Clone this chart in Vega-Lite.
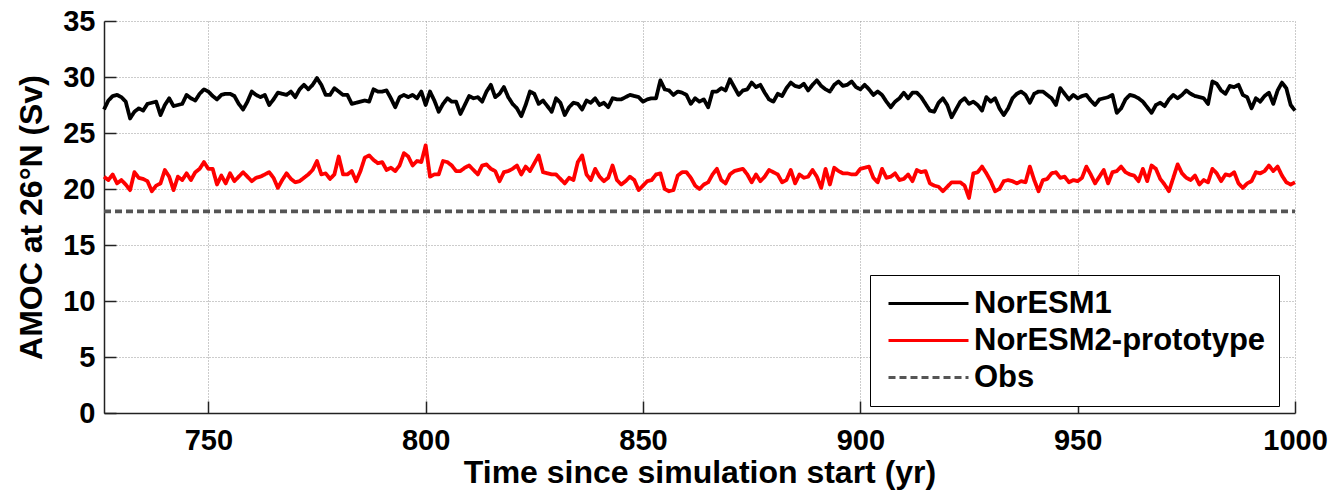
{
  "$schema": "https://vega.github.io/schema/vega-lite/v6.json",
  "width": 1191,
  "height": 392,
  "autosize": {"type": "none"},
  "padding": {"left": 104, "top": 21, "right": 38, "bottom": 82},
  "background": "white",
  "config": {"font": "Liberation Sans", "view": {"stroke": null}},
  "data": {"values": [
{"year":726,"NorESM1":27.1,"NorESM2-prototype":21.1,"Obs":18},
{"year":727,"NorESM1":27.9,"NorESM2-prototype":20.8,"Obs":18},
{"year":728,"NorESM1":28.3,"NorESM2-prototype":21.3,"Obs":18},
{"year":729,"NorESM1":28.4,"NorESM2-prototype":20.5,"Obs":18},
{"year":730,"NorESM1":28.2,"NorESM2-prototype":20.8,"Obs":18},
{"year":731,"NorESM1":27.8,"NorESM2-prototype":20.4,"Obs":18},
{"year":732,"NorESM1":26.3,"NorESM2-prototype":19.9,"Obs":18},
{"year":733,"NorESM1":26.9,"NorESM2-prototype":21.5,"Obs":18},
{"year":734,"NorESM1":27.2,"NorESM2-prototype":21.0,"Obs":18},
{"year":735,"NorESM1":27.0,"NorESM2-prototype":20.9,"Obs":18},
{"year":736,"NorESM1":27.6,"NorESM2-prototype":20.7,"Obs":18},
{"year":737,"NorESM1":27.7,"NorESM2-prototype":19.8,"Obs":18},
{"year":738,"NorESM1":27.8,"NorESM2-prototype":20.3,"Obs":18},
{"year":739,"NorESM1":26.6,"NorESM2-prototype":20.5,"Obs":18},
{"year":740,"NorESM1":27.5,"NorESM2-prototype":21.7,"Obs":18},
{"year":741,"NorESM1":28.1,"NorESM2-prototype":21.1,"Obs":18},
{"year":742,"NorESM1":27.4,"NorESM2-prototype":19.9,"Obs":18},
{"year":743,"NorESM1":27.5,"NorESM2-prototype":21.1,"Obs":18},
{"year":744,"NorESM1":27.6,"NorESM2-prototype":20.8,"Obs":18},
{"year":745,"NorESM1":28.4,"NorESM2-prototype":21.4,"Obs":18},
{"year":746,"NorESM1":28.1,"NorESM2-prototype":20.8,"Obs":18},
{"year":747,"NorESM1":27.9,"NorESM2-prototype":21.5,"Obs":18},
{"year":748,"NorESM1":28.5,"NorESM2-prototype":21.8,"Obs":18},
{"year":749,"NorESM1":28.9,"NorESM2-prototype":22.4,"Obs":18},
{"year":750,"NorESM1":28.7,"NorESM2-prototype":21.8,"Obs":18},
{"year":751,"NorESM1":28.3,"NorESM2-prototype":21.8,"Obs":18},
{"year":752,"NorESM1":28.0,"NorESM2-prototype":20.4,"Obs":18},
{"year":753,"NorESM1":28.4,"NorESM2-prototype":21.2,"Obs":18},
{"year":754,"NorESM1":28.5,"NorESM2-prototype":20.5,"Obs":18},
{"year":755,"NorESM1":28.5,"NorESM2-prototype":21.4,"Obs":18},
{"year":756,"NorESM1":28.3,"NorESM2-prototype":20.7,"Obs":18},
{"year":757,"NorESM1":27.6,"NorESM2-prototype":21.1,"Obs":18},
{"year":758,"NorESM1":27.1,"NorESM2-prototype":21.5,"Obs":18},
{"year":759,"NorESM1":27.8,"NorESM2-prototype":21.1,"Obs":18},
{"year":760,"NorESM1":28.7,"NorESM2-prototype":20.7,"Obs":18},
{"year":761,"NorESM1":28.4,"NorESM2-prototype":21.0,"Obs":18},
{"year":762,"NorESM1":28.2,"NorESM2-prototype":21.1,"Obs":18},
{"year":763,"NorESM1":28.4,"NorESM2-prototype":21.3,"Obs":18},
{"year":764,"NorESM1":27.5,"NorESM2-prototype":21.5,"Obs":18},
{"year":765,"NorESM1":28.0,"NorESM2-prototype":21.0,"Obs":18},
{"year":766,"NorESM1":28.6,"NorESM2-prototype":20.1,"Obs":18},
{"year":767,"NorESM1":28.5,"NorESM2-prototype":20.8,"Obs":18},
{"year":768,"NorESM1":28.4,"NorESM2-prototype":21.4,"Obs":18},
{"year":769,"NorESM1":28.7,"NorESM2-prototype":20.9,"Obs":18},
{"year":770,"NorESM1":28.2,"NorESM2-prototype":20.6,"Obs":18},
{"year":771,"NorESM1":28.9,"NorESM2-prototype":20.7,"Obs":18},
{"year":772,"NorESM1":29.3,"NorESM2-prototype":21.0,"Obs":18},
{"year":773,"NorESM1":28.9,"NorESM2-prototype":21.3,"Obs":18},
{"year":774,"NorESM1":29.3,"NorESM2-prototype":21.7,"Obs":18},
{"year":775,"NorESM1":29.9,"NorESM2-prototype":22.5,"Obs":18},
{"year":776,"NorESM1":29.3,"NorESM2-prototype":21.3,"Obs":18},
{"year":777,"NorESM1":28.4,"NorESM2-prototype":21.4,"Obs":18},
{"year":778,"NorESM1":28.4,"NorESM2-prototype":20.9,"Obs":18},
{"year":779,"NorESM1":29.0,"NorESM2-prototype":21.3,"Obs":18},
{"year":780,"NorESM1":28.7,"NorESM2-prototype":22.9,"Obs":18},
{"year":781,"NorESM1":28.4,"NorESM2-prototype":21.3,"Obs":18},
{"year":782,"NorESM1":28.4,"NorESM2-prototype":21.3,"Obs":18},
{"year":783,"NorESM1":27.6,"NorESM2-prototype":21.6,"Obs":18},
{"year":784,"NorESM1":27.7,"NorESM2-prototype":20.7,"Obs":18},
{"year":785,"NorESM1":27.8,"NorESM2-prototype":21.6,"Obs":18},
{"year":786,"NorESM1":27.9,"NorESM2-prototype":22.8,"Obs":18},
{"year":787,"NorESM1":27.8,"NorESM2-prototype":23.0,"Obs":18},
{"year":788,"NorESM1":28.9,"NorESM2-prototype":22.6,"Obs":18},
{"year":789,"NorESM1":28.7,"NorESM2-prototype":22.3,"Obs":18},
{"year":790,"NorESM1":28.7,"NorESM2-prototype":22.4,"Obs":18},
{"year":791,"NorESM1":28.8,"NorESM2-prototype":21.7,"Obs":18},
{"year":792,"NorESM1":28.1,"NorESM2-prototype":21.9,"Obs":18},
{"year":793,"NorESM1":27.3,"NorESM2-prototype":21.6,"Obs":18},
{"year":794,"NorESM1":28.2,"NorESM2-prototype":22.1,"Obs":18},
{"year":795,"NorESM1":28.4,"NorESM2-prototype":23.2,"Obs":18},
{"year":796,"NorESM1":28.2,"NorESM2-prototype":22.9,"Obs":18},
{"year":797,"NorESM1":28.4,"NorESM2-prototype":22.1,"Obs":18},
{"year":798,"NorESM1":28.1,"NorESM2-prototype":22.5,"Obs":18},
{"year":799,"NorESM1":28.7,"NorESM2-prototype":22.4,"Obs":18},
{"year":800,"NorESM1":27.5,"NorESM2-prototype":23.9,"Obs":18},
{"year":801,"NorESM1":28.7,"NorESM2-prototype":21.1,"Obs":18},
{"year":802,"NorESM1":27.9,"NorESM2-prototype":21.3,"Obs":18},
{"year":803,"NorESM1":26.9,"NorESM2-prototype":21.3,"Obs":18},
{"year":804,"NorESM1":27.6,"NorESM2-prototype":22.5,"Obs":18},
{"year":805,"NorESM1":28.1,"NorESM2-prototype":22.4,"Obs":18},
{"year":806,"NorESM1":27.8,"NorESM2-prototype":22.1,"Obs":18},
{"year":807,"NorESM1":27.8,"NorESM2-prototype":21.6,"Obs":18},
{"year":808,"NorESM1":26.7,"NorESM2-prototype":21.6,"Obs":18},
{"year":809,"NorESM1":27.5,"NorESM2-prototype":21.9,"Obs":18},
{"year":810,"NorESM1":28.3,"NorESM2-prototype":22.1,"Obs":18},
{"year":811,"NorESM1":28.1,"NorESM2-prototype":21.7,"Obs":18},
{"year":812,"NorESM1":28.2,"NorESM2-prototype":21.3,"Obs":18},
{"year":813,"NorESM1":27.8,"NorESM2-prototype":22.1,"Obs":18},
{"year":814,"NorESM1":28.7,"NorESM2-prototype":22.2,"Obs":18},
{"year":815,"NorESM1":29.3,"NorESM2-prototype":21.8,"Obs":18},
{"year":816,"NorESM1":28.2,"NorESM2-prototype":21.6,"Obs":18},
{"year":817,"NorESM1":28.5,"NorESM2-prototype":20.7,"Obs":18},
{"year":818,"NorESM1":29.1,"NorESM2-prototype":21.5,"Obs":18},
{"year":819,"NorESM1":28.2,"NorESM2-prototype":21.6,"Obs":18},
{"year":820,"NorESM1":27.6,"NorESM2-prototype":21.8,"Obs":18},
{"year":821,"NorESM1":27.2,"NorESM2-prototype":22.1,"Obs":18},
{"year":822,"NorESM1":26.5,"NorESM2-prototype":21.3,"Obs":18},
{"year":823,"NorESM1":27.5,"NorESM2-prototype":22.0,"Obs":18},
{"year":824,"NorESM1":28.7,"NorESM2-prototype":21.6,"Obs":18},
{"year":825,"NorESM1":28.5,"NorESM2-prototype":22.3,"Obs":18},
{"year":826,"NorESM1":27.6,"NorESM2-prototype":23.0,"Obs":18},
{"year":827,"NorESM1":27.9,"NorESM2-prototype":21.5,"Obs":18},
{"year":828,"NorESM1":27.4,"NorESM2-prototype":21.4,"Obs":18},
{"year":829,"NorESM1":26.9,"NorESM2-prototype":21.3,"Obs":18},
{"year":830,"NorESM1":28.1,"NorESM2-prototype":21.3,"Obs":18},
{"year":831,"NorESM1":27.7,"NorESM2-prototype":20.9,"Obs":18},
{"year":832,"NorESM1":26.6,"NorESM2-prototype":20.5,"Obs":18},
{"year":833,"NorESM1":27.3,"NorESM2-prototype":21.0,"Obs":18},
{"year":834,"NorESM1":27.7,"NorESM2-prototype":20.8,"Obs":18},
{"year":835,"NorESM1":27.6,"NorESM2-prototype":22.4,"Obs":18},
{"year":836,"NorESM1":27.1,"NorESM2-prototype":23.0,"Obs":18},
{"year":837,"NorESM1":27.9,"NorESM2-prototype":21.3,"Obs":18},
{"year":838,"NorESM1":27.7,"NorESM2-prototype":20.8,"Obs":18},
{"year":839,"NorESM1":28.1,"NorESM2-prototype":21.8,"Obs":18},
{"year":840,"NorESM1":27.5,"NorESM2-prototype":21.1,"Obs":18},
{"year":841,"NorESM1":27.7,"NorESM2-prototype":20.7,"Obs":18},
{"year":842,"NorESM1":27.3,"NorESM2-prototype":21.0,"Obs":18},
{"year":843,"NorESM1":28.1,"NorESM2-prototype":22.1,"Obs":18},
{"year":844,"NorESM1":28.0,"NorESM2-prototype":20.8,"Obs":18},
{"year":845,"NorESM1":28.0,"NorESM2-prototype":20.4,"Obs":18},
{"year":846,"NorESM1":28.2,"NorESM2-prototype":20.7,"Obs":18},
{"year":847,"NorESM1":28.4,"NorESM2-prototype":21.1,"Obs":18},
{"year":848,"NorESM1":28.3,"NorESM2-prototype":20.8,"Obs":18},
{"year":849,"NorESM1":28.2,"NorESM2-prototype":19.9,"Obs":18},
{"year":850,"NorESM1":27.8,"NorESM2-prototype":20.3,"Obs":18},
{"year":851,"NorESM1":28.0,"NorESM2-prototype":20.7,"Obs":18},
{"year":852,"NorESM1":28.1,"NorESM2-prototype":20.8,"Obs":18},
{"year":853,"NorESM1":28.1,"NorESM2-prototype":21.3,"Obs":18},
{"year":854,"NorESM1":29.7,"NorESM2-prototype":21.4,"Obs":18},
{"year":855,"NorESM1":28.9,"NorESM2-prototype":20.0,"Obs":18},
{"year":856,"NorESM1":28.8,"NorESM2-prototype":19.8,"Obs":18},
{"year":857,"NorESM1":28.4,"NorESM2-prototype":19.9,"Obs":18},
{"year":858,"NorESM1":28.7,"NorESM2-prototype":21.2,"Obs":18},
{"year":859,"NorESM1":28.6,"NorESM2-prototype":21.5,"Obs":18},
{"year":860,"NorESM1":28.4,"NorESM2-prototype":21.5,"Obs":18},
{"year":861,"NorESM1":27.6,"NorESM2-prototype":21.0,"Obs":18},
{"year":862,"NorESM1":28.1,"NorESM2-prototype":20.3,"Obs":18},
{"year":863,"NorESM1":27.8,"NorESM2-prototype":20.0,"Obs":18},
{"year":864,"NorESM1":28.0,"NorESM2-prototype":20.4,"Obs":18},
{"year":865,"NorESM1":27.3,"NorESM2-prototype":20.6,"Obs":18},
{"year":866,"NorESM1":28.7,"NorESM2-prototype":21.3,"Obs":18},
{"year":867,"NorESM1":28.7,"NorESM2-prototype":21.8,"Obs":18},
{"year":868,"NorESM1":29.0,"NorESM2-prototype":20.8,"Obs":18},
{"year":869,"NorESM1":28.8,"NorESM2-prototype":20.5,"Obs":18},
{"year":870,"NorESM1":29.8,"NorESM2-prototype":21.3,"Obs":18},
{"year":871,"NorESM1":29.1,"NorESM2-prototype":21.6,"Obs":18},
{"year":872,"NorESM1":28.4,"NorESM2-prototype":21.7,"Obs":18},
{"year":873,"NorESM1":28.8,"NorESM2-prototype":21.8,"Obs":18},
{"year":874,"NorESM1":28.9,"NorESM2-prototype":21.3,"Obs":18},
{"year":875,"NorESM1":29.5,"NorESM2-prototype":20.6,"Obs":18},
{"year":876,"NorESM1":29.1,"NorESM2-prototype":21.3,"Obs":18},
{"year":877,"NorESM1":29.3,"NorESM2-prototype":20.7,"Obs":18},
{"year":878,"NorESM1":28.6,"NorESM2-prototype":21.1,"Obs":18},
{"year":879,"NorESM1":28.0,"NorESM2-prototype":21.7,"Obs":18},
{"year":880,"NorESM1":27.8,"NorESM2-prototype":21.5,"Obs":18},
{"year":881,"NorESM1":28.5,"NorESM2-prototype":21.3,"Obs":18},
{"year":882,"NorESM1":28.3,"NorESM2-prototype":20.6,"Obs":18},
{"year":883,"NorESM1":29.0,"NorESM2-prototype":20.8,"Obs":18},
{"year":884,"NorESM1":29.5,"NorESM2-prototype":21.7,"Obs":18},
{"year":885,"NorESM1":29.2,"NorESM2-prototype":20.5,"Obs":18},
{"year":886,"NorESM1":29.1,"NorESM2-prototype":21.3,"Obs":18},
{"year":887,"NorESM1":29.4,"NorESM2-prototype":21.0,"Obs":18},
{"year":888,"NorESM1":28.8,"NorESM2-prototype":21.1,"Obs":18},
{"year":889,"NorESM1":29.3,"NorESM2-prototype":21.7,"Obs":18},
{"year":890,"NorESM1":29.7,"NorESM2-prototype":21.1,"Obs":18},
{"year":891,"NorESM1":29.2,"NorESM2-prototype":20.1,"Obs":18},
{"year":892,"NorESM1":28.9,"NorESM2-prototype":21.8,"Obs":18},
{"year":893,"NorESM1":28.7,"NorESM2-prototype":20.4,"Obs":18},
{"year":894,"NorESM1":29.3,"NorESM2-prototype":21.9,"Obs":18},
{"year":895,"NorESM1":29.6,"NorESM2-prototype":21.6,"Obs":18},
{"year":896,"NorESM1":29.2,"NorESM2-prototype":21.4,"Obs":18},
{"year":897,"NorESM1":29.3,"NorESM2-prototype":21.4,"Obs":18},
{"year":898,"NorESM1":29.6,"NorESM2-prototype":21.3,"Obs":18},
{"year":899,"NorESM1":29.1,"NorESM2-prototype":21.3,"Obs":18},
{"year":900,"NorESM1":28.9,"NorESM2-prototype":21.8,"Obs":18},
{"year":901,"NorESM1":29.3,"NorESM2-prototype":21.9,"Obs":18},
{"year":902,"NorESM1":28.9,"NorESM2-prototype":22.0,"Obs":18},
{"year":903,"NorESM1":28.4,"NorESM2-prototype":21.0,"Obs":18},
{"year":904,"NorESM1":28.7,"NorESM2-prototype":20.6,"Obs":18},
{"year":905,"NorESM1":28.4,"NorESM2-prototype":21.8,"Obs":18},
{"year":906,"NorESM1":27.8,"NorESM2-prototype":21.0,"Obs":18},
{"year":907,"NorESM1":27.3,"NorESM2-prototype":21.1,"Obs":18},
{"year":908,"NorESM1":27.8,"NorESM2-prototype":21.4,"Obs":18},
{"year":909,"NorESM1":28.1,"NorESM2-prototype":20.8,"Obs":18},
{"year":910,"NorESM1":28.6,"NorESM2-prototype":20.9,"Obs":18},
{"year":911,"NorESM1":28.1,"NorESM2-prototype":21.3,"Obs":18},
{"year":912,"NorESM1":28.6,"NorESM2-prototype":20.7,"Obs":18},
{"year":913,"NorESM1":28.6,"NorESM2-prototype":21.7,"Obs":18},
{"year":914,"NorESM1":28.2,"NorESM2-prototype":21.5,"Obs":18},
{"year":915,"NorESM1":27.6,"NorESM2-prototype":21.6,"Obs":18},
{"year":916,"NorESM1":27.0,"NorESM2-prototype":20.5,"Obs":18},
{"year":917,"NorESM1":26.9,"NorESM2-prototype":20.3,"Obs":18},
{"year":918,"NorESM1":27.7,"NorESM2-prototype":20.2,"Obs":18},
{"year":919,"NorESM1":28.1,"NorESM2-prototype":19.8,"Obs":18},
{"year":920,"NorESM1":27.5,"NorESM2-prototype":20.2,"Obs":18},
{"year":921,"NorESM1":26.4,"NorESM2-prototype":20.6,"Obs":18},
{"year":922,"NorESM1":27.1,"NorESM2-prototype":20.6,"Obs":18},
{"year":923,"NorESM1":27.8,"NorESM2-prototype":20.6,"Obs":18},
{"year":924,"NorESM1":28.1,"NorESM2-prototype":20.3,"Obs":18},
{"year":925,"NorESM1":27.6,"NorESM2-prototype":19.2,"Obs":18},
{"year":926,"NorESM1":27.8,"NorESM2-prototype":21.4,"Obs":18},
{"year":927,"NorESM1":27.5,"NorESM2-prototype":21.5,"Obs":18},
{"year":928,"NorESM1":27.0,"NorESM2-prototype":22.0,"Obs":18},
{"year":929,"NorESM1":28.2,"NorESM2-prototype":21.4,"Obs":18},
{"year":930,"NorESM1":27.8,"NorESM2-prototype":20.7,"Obs":18},
{"year":931,"NorESM1":28.1,"NorESM2-prototype":19.8,"Obs":18},
{"year":932,"NorESM1":27.2,"NorESM2-prototype":20.0,"Obs":18},
{"year":933,"NorESM1":26.6,"NorESM2-prototype":20.7,"Obs":18},
{"year":934,"NorESM1":27.2,"NorESM2-prototype":20.8,"Obs":18},
{"year":935,"NorESM1":28.1,"NorESM2-prototype":20.7,"Obs":18},
{"year":936,"NorESM1":28.5,"NorESM2-prototype":20.5,"Obs":18},
{"year":937,"NorESM1":28.7,"NorESM2-prototype":20.7,"Obs":18},
{"year":938,"NorESM1":28.4,"NorESM2-prototype":20.6,"Obs":18},
{"year":939,"NorESM1":27.7,"NorESM2-prototype":22.0,"Obs":18},
{"year":940,"NorESM1":28.5,"NorESM2-prototype":20.8,"Obs":18},
{"year":941,"NorESM1":28.7,"NorESM2-prototype":19.8,"Obs":18},
{"year":942,"NorESM1":28.7,"NorESM2-prototype":20.8,"Obs":18},
{"year":943,"NorESM1":28.4,"NorESM2-prototype":20.9,"Obs":18},
{"year":944,"NorESM1":28.1,"NorESM2-prototype":21.4,"Obs":18},
{"year":945,"NorESM1":27.5,"NorESM2-prototype":21.5,"Obs":18},
{"year":946,"NorESM1":29.0,"NorESM2-prototype":21.0,"Obs":18},
{"year":947,"NorESM1":28.5,"NorESM2-prototype":21.1,"Obs":18},
{"year":948,"NorESM1":28.0,"NorESM2-prototype":20.6,"Obs":18},
{"year":949,"NorESM1":28.4,"NorESM2-prototype":20.8,"Obs":18},
{"year":950,"NorESM1":28.1,"NorESM2-prototype":20.7,"Obs":18},
{"year":951,"NorESM1":28.3,"NorESM2-prototype":21.0,"Obs":18},
{"year":952,"NorESM1":28.4,"NorESM2-prototype":22.0,"Obs":18},
{"year":953,"NorESM1":27.9,"NorESM2-prototype":21.3,"Obs":18},
{"year":954,"NorESM1":27.5,"NorESM2-prototype":20.5,"Obs":18},
{"year":955,"NorESM1":28.0,"NorESM2-prototype":21.1,"Obs":18},
{"year":956,"NorESM1":28.1,"NorESM2-prototype":21.7,"Obs":18},
{"year":957,"NorESM1":28.2,"NorESM2-prototype":20.5,"Obs":18},
{"year":958,"NorESM1":28.4,"NorESM2-prototype":21.5,"Obs":18},
{"year":959,"NorESM1":26.8,"NorESM2-prototype":21.6,"Obs":18},
{"year":960,"NorESM1":27.2,"NorESM2-prototype":22.0,"Obs":18},
{"year":961,"NorESM1":28.0,"NorESM2-prototype":21.5,"Obs":18},
{"year":962,"NorESM1":28.4,"NorESM2-prototype":21.3,"Obs":18},
{"year":963,"NorESM1":28.3,"NorESM2-prototype":21.2,"Obs":18},
{"year":964,"NorESM1":28.1,"NorESM2-prototype":20.7,"Obs":18},
{"year":965,"NorESM1":27.8,"NorESM2-prototype":21.8,"Obs":18},
{"year":966,"NorESM1":27.3,"NorESM2-prototype":20.7,"Obs":18},
{"year":967,"NorESM1":26.8,"NorESM2-prototype":22.1,"Obs":18},
{"year":968,"NorESM1":27.5,"NorESM2-prototype":21.8,"Obs":18},
{"year":969,"NorESM1":27.7,"NorESM2-prototype":20.9,"Obs":18},
{"year":970,"NorESM1":27.4,"NorESM2-prototype":20.4,"Obs":18},
{"year":971,"NorESM1":28.0,"NorESM2-prototype":19.8,"Obs":18},
{"year":972,"NorESM1":28.4,"NorESM2-prototype":21.0,"Obs":18},
{"year":973,"NorESM1":28.1,"NorESM2-prototype":22.2,"Obs":18},
{"year":974,"NorESM1":28.4,"NorESM2-prototype":21.4,"Obs":18},
{"year":975,"NorESM1":28.8,"NorESM2-prototype":21.0,"Obs":18},
{"year":976,"NorESM1":28.5,"NorESM2-prototype":20.8,"Obs":18},
{"year":977,"NorESM1":28.3,"NorESM2-prototype":21.2,"Obs":18},
{"year":978,"NorESM1":28.2,"NorESM2-prototype":20.4,"Obs":18},
{"year":979,"NorESM1":28.1,"NorESM2-prototype":20.8,"Obs":18},
{"year":980,"NorESM1":27.6,"NorESM2-prototype":20.6,"Obs":18},
{"year":981,"NorESM1":29.6,"NorESM2-prototype":21.8,"Obs":18},
{"year":982,"NorESM1":29.4,"NorESM2-prototype":21.4,"Obs":18},
{"year":983,"NorESM1":28.8,"NorESM2-prototype":20.7,"Obs":18},
{"year":984,"NorESM1":28.5,"NorESM2-prototype":21.3,"Obs":18},
{"year":985,"NorESM1":29.2,"NorESM2-prototype":21.2,"Obs":18},
{"year":986,"NorESM1":29.1,"NorESM2-prototype":21.5,"Obs":18},
{"year":987,"NorESM1":29.3,"NorESM2-prototype":20.5,"Obs":18},
{"year":988,"NorESM1":28.4,"NorESM2-prototype":20.1,"Obs":18},
{"year":989,"NorESM1":28.2,"NorESM2-prototype":20.5,"Obs":18},
{"year":990,"NorESM1":27.2,"NorESM2-prototype":20.7,"Obs":18},
{"year":991,"NorESM1":28.1,"NorESM2-prototype":21.5,"Obs":18},
{"year":992,"NorESM1":27.8,"NorESM2-prototype":21.4,"Obs":18},
{"year":993,"NorESM1":28.3,"NorESM2-prototype":21.6,"Obs":18},
{"year":994,"NorESM1":28.6,"NorESM2-prototype":22.1,"Obs":18},
{"year":995,"NorESM1":27.6,"NorESM2-prototype":21.6,"Obs":18},
{"year":996,"NorESM1":28.8,"NorESM2-prototype":22.0,"Obs":18},
{"year":997,"NorESM1":29.5,"NorESM2-prototype":21.2,"Obs":18},
{"year":998,"NorESM1":29.0,"NorESM2-prototype":20.6,"Obs":18},
{"year":999,"NorESM1":27.5,"NorESM2-prototype":20.4,"Obs":18},
{"year":1000,"NorESM1":27.0,"NorESM2-prototype":20.6,"Obs":18}
  ]},
  "transform": [{"fold": ["NorESM1", "NorESM2-prototype", "Obs"], "as": ["series", "amoc"]}],
  "mark": {"type": "line", "strokeWidth": 3.8, "strokeJoin": "round"},
  "encoding": {
    "x": {
      "field": "year", "type": "quantitative",
      "scale": {"domain": [726, 1000], "nice": false, "zero": false},
      "axis": {
        "values": [750, 800, 850, 900, 950, 1000], "format": "d",
        "title": "Time since simulation start (yr)",
        "grid": true, "gridDash": [1, 2], "gridColor": "#999999", "gridWidth": 1,
        "domainColor": "#222222", "domainWidth": 1.5,
        "tickColor": "#222222", "tickWidth": 1.5, "tickSize": -12,
        "labelFont": "Liberation Sans", "labelFontWeight": "bold", "labelFontSize": 29, "labelColor": "black",
        "labelPadding": 25, "labelFlush": false,
        "titleFont": "Liberation Sans", "titleFontWeight": "bold", "titleFontSize": 32, "titleColor": "black",
        "titlePadding": 2
      }
    },
    "y": {
      "field": "amoc", "type": "quantitative",
      "scale": {"domain": [0, 35], "nice": false},
      "axis": {
        "values": [0, 5, 10, 15, 20, 25, 30, 35],
        "title": "AMOC at 26°N (Sv)",
        "grid": true, "gridDash": [1, 2], "gridColor": "#999999", "gridWidth": 1,
        "domainColor": "#222222", "domainWidth": 1.5,
        "tickColor": "#222222", "tickWidth": 1.5, "tickSize": -12,
        "labelFont": "Liberation Sans", "labelFontWeight": "bold", "labelFontSize": 29, "labelColor": "black",
        "labelPadding": 21, "labelFlush": false,
        "titleFont": "Liberation Sans", "titleFontWeight": "bold", "titleFontSize": 32, "titleColor": "black",
        "titlePadding": 14
      }
    },
    "color": {
      "field": "series", "type": "nominal",
      "scale": {"domain": ["NorESM1", "NorESM2-prototype", "Obs"], "range": ["#000000", "#ff0000", "#555555"]},
      "legend": {
        "title": null, "orient": "none", "legendX": 766, "legendY": 254,
        "direction": "vertical",
        "fillColor": "white", "strokeColor": "black", "padding": 13,
        "symbolType": "M-1,0H7", "symbolSize": 400, "symbolStrokeWidth": 3,
        "labelFont": "Liberation Sans", "labelFontWeight": "bold", "labelFontSize": 31, "labelColor": "black",
        "labelOffset": 60, "labelLimit": 400, "rowPadding": 5
      }
    },
    "strokeDash": {
      "field": "series", "type": "nominal",
      "scale": {"domain": ["NorESM1", "NorESM2-prototype", "Obs"], "range": [[1, 0], [1, 0], [7, 4]]},
      "legend": {
        "title": null, "orient": "none", "legendX": 766, "legendY": 254,
        "direction": "vertical",
        "fillColor": "white", "strokeColor": "black", "padding": 13,
        "symbolType": "M-1,0H7", "symbolSize": 400, "symbolStrokeWidth": 3,
        "labelFont": "Liberation Sans", "labelFontWeight": "bold", "labelFontSize": 31, "labelColor": "black",
        "labelOffset": 60, "labelLimit": 400, "rowPadding": 5
      }
    }
  }
}
